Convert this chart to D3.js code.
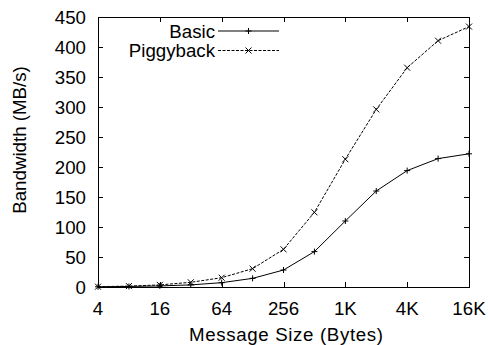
<!DOCTYPE html>
<html><head><meta charset="utf-8">
<script src="https://cdn.jsdelivr.net/npm/d3@7"></script>
<style>body{margin:0;background:#fff}svg{display:block}text{font-family:"Liberation Sans",Arial,sans-serif;fill:#000}</style>
</head><body><svg id="c" width="488" height="345"></svg>
<script>
const sizes = [4,8,16,32,64,128,256,512,1024,2048,4096,8192,16384];
const basic = [0.4,0.9,1.8,3.5,7.2,14.4,28.3,59,110,160,194,214,222];
const piggyback = [0.5,1.5,3.5,7.8,15.5,30.5,62.8,124.5,213,296,365.5,410.5,434];
const xTicks = [4,16,64,256,1024,4096,16384];
const xTickLabels = ["4","16","64","256","1K","4K","16K"];
const yTicks = [0,50,100,150,200,250,300,350,400,450];
const seriesNames = ["Basic","Piggyback"];

const svg = d3.select("#c");
const L=98,R=469,T=17,B=287;
const x = d3.scaleLog().base(2).domain([4,16384]).range([L,R]);
const y = d3.scaleLinear().domain([0,450]).range([B,T]);
const fs = 18.7;

svg.append("rect").attr("x",L+0.5).attr("y",T+0.5).attr("width",R-L).attr("height",B-T)
  .attr("fill","none").attr("stroke","#000").attr("stroke-width",1);

const tl=5;
yTicks.forEach(v=>{
  const yy=Math.round(y(v))+0.5;
  svg.append("line").attr("x1",L).attr("x2",L+tl).attr("y1",yy).attr("y2",yy).attr("stroke","#000");
  svg.append("line").attr("x1",R-tl).attr("x2",R).attr("y1",yy).attr("y2",yy).attr("stroke","#000");
  svg.append("text").attr("x",86).attr("y",y(v)).attr("dy","0.36em").attr("text-anchor","end").attr("font-size",fs).text(v);
});
xTicks.forEach((v,i)=>{
  const xx=Math.round(x(v))+0.5;
  svg.append("line").attr("x1",xx).attr("x2",xx).attr("y1",B).attr("y2",B-tl).attr("stroke","#000");
  svg.append("line").attr("x1",xx).attr("x2",xx).attr("y1",T).attr("y2",T+tl).attr("stroke","#000");
  svg.append("text").attr("x",x(v)).attr("y",315).attr("text-anchor","middle").attr("font-size",fs).text(xTickLabels[i]);
});
svg.append("text").attr("x",286).attr("y",341).attr("text-anchor","middle").attr("font-size",fs)
  .attr("textLength",194).attr("lengthAdjust","spacing").text("Message Size (Bytes)");
svg.append("text").attr("transform","translate(26,140) rotate(-90)").attr("text-anchor","middle").attr("font-size",fs).text("Bandwidth (MB/s)");

const line = d3.line().x(d=>x(d[0])).y(d=>y(d[1]));
const plusPath=(cx,cy,s)=>`M${cx-s},${cy}H${cx+s}M${cx},${cy-s}V${cy+s}`;
const crossPath=(cx,cy,s)=>`M${cx-s},${cy-s}L${cx+s},${cy+s}M${cx-s},${cy+s}L${cx+s},${cy-s}`;

const series=[{name:seriesNames[0],vals:basic,dash:null,mk:plusPath,ly:31},
              {name:seriesNames[1],vals:piggyback,dash:"3,1.5",mk:crossPath,ly:50.5}];
series.forEach(s=>{
  const pts=sizes.map((v,i)=>[v,s.vals[i]]);
  svg.append("path").attr("d",line(pts)).attr("fill","none").attr("stroke","#000").attr("stroke-width",1).attr("stroke-dasharray",s.dash);
  svg.append("path").attr("d",pts.map(p=>s.mk(x(p[0]),y(p[1]),3)).join("")).attr("stroke","#000").attr("stroke-width",1).attr("fill","none");
  svg.append("text").attr("x",215).attr("y",s.ly).attr("dy","0.36em").attr("text-anchor","end").attr("font-size",fs).text(s.name);
  svg.append("line").attr("x1",218).attr("x2",279).attr("y1",s.ly).attr("y2",s.ly).attr("stroke","#000").attr("stroke-dasharray",s.dash);
  svg.append("path").attr("d",s.mk(248.5,s.ly,3)).attr("stroke","#000").attr("fill","none");
});
</script></body></html>
